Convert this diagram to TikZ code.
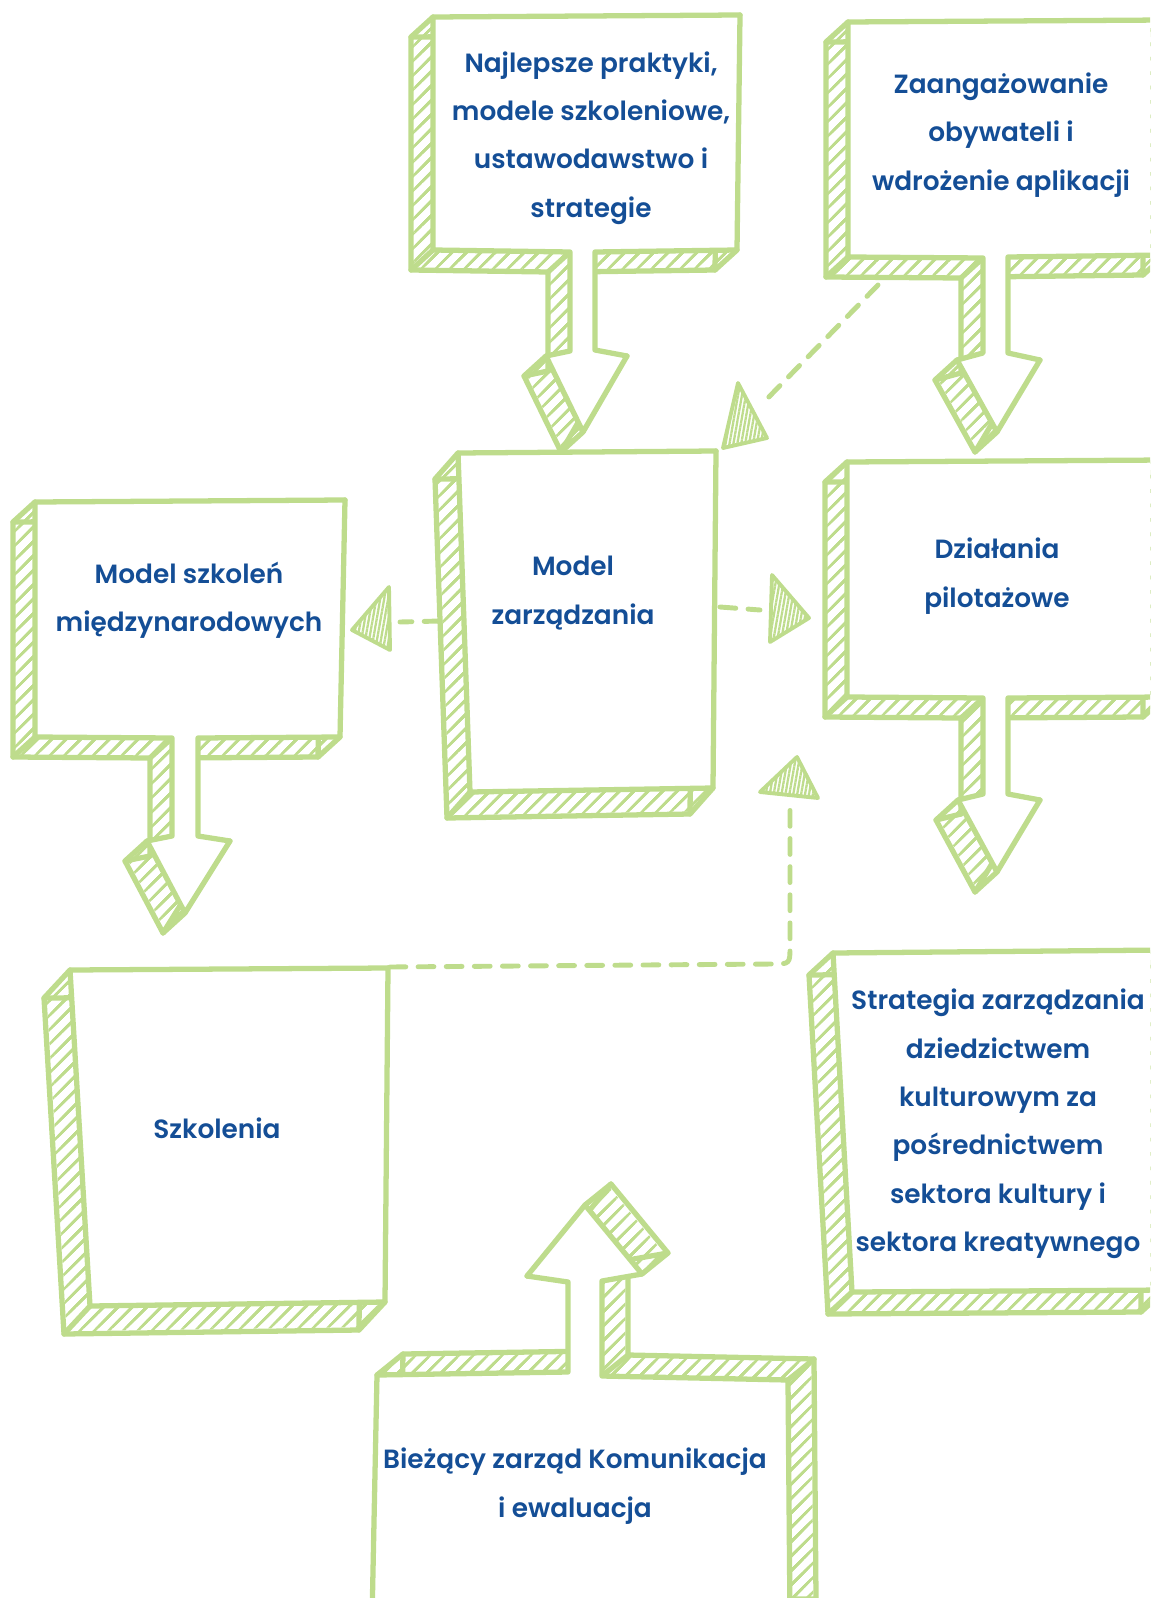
\documentclass[tikz,border=0pt]{standalone}
\usepackage{fontspec}
\setmainfont{Poppins}[UprightFont=* Medium, BoldFont=* SemiBold]
\usetikzlibrary{patterns.meta}
\definecolor{leaf}{RGB}{190,220,140}
\definecolor{ink}{RGB}{20,78,150}

% hand-drawn slab: depth (#1,#2), first corner #3, other corners #4 as x/y
\newcommand{\slab}[4]{%
  \foreach \t in {0,0.1,...,1}
    \fill[hatch,shift={(\t*#1,\t*#2)}] (#3) \foreach \x/\y in {#4}{-- (\x,\y)} -- cycle;
  \draw[rim] (#3) -- ++(#1,#2);
  \foreach \x/\y in {#4} \draw[rim] (\x,\y) -- ++(#1,#2);
  \draw[rim,shift={(#1,#2)}] (#3) \foreach \x/\y in {#4}{-- (\x,\y)} -- cycle;
  \filldraw[rim,fill=white] (#3) \foreach \x/\y in {#4}{-- (\x,\y)} -- cycle;
}

\begin{document}
\begin{tikzpicture}[
  x=0.02cm, y=-0.02cm,
  rim/.style={draw=leaf,line width=3pt,line join=round,line cap=round},
  hatch/.style={pattern={Lines[angle=45,distance=5.8pt,line width=1.4pt]},pattern color=leaf},
  label/.style={text=ink,align=center,font=\fontsize{15}{27.5}\selectfont\bfseries},
  trail/.style={draw=leaf,line width=2.8pt,line cap=round,dash pattern=on 9pt off 7pt},
  tip/.style={draw=leaf,line width=2.2pt,line join=round,
    pattern={Lines[angle=80,distance=2.2pt,line width=1.3pt]},pattern color=leaf}
]
\useasboundingbox (0,0) rectangle (1150,1598);
\clip (0,0) rectangle (1150,1598);

% boxes
\slab{-22}{20}{433,17}{740/15, 737/250, 595/252, 595/350, 627/356, 583/432, 546/356, 570/351, 570/252, 433/250}
\slab{-22}{20}{848,22}{1165/20, 1165/255, 1008/257, 1008/353, 1040/360, 997/432, 957/360, 983/353, 983/258, 848/257}
\slab{-23}{26}{458,453}{716/451, 713/788, 470/792}
\slab{-22}{20}{35,502}{345/500, 340/737, 198/738, 198/836, 230/841, 185/913, 147/841, 172/836, 172/738, 35/737}
\slab{-22}{20}{847,462}{1165/460, 1165/697, 1008/698, 1008/794, 1040/800, 997/872, 958/800, 983/794, 983/698, 847/697}
\slab{-24}{22}{833,953}{1165/950, 1165/1290, 852/1292}
\slab{-26}{28}{70,970}{388/968, 385/1302, 90/1306}
\slab{26}{-21}{377,1375}{568/1372, 568/1282, 527/1276, 585/1205, 642/1274, 602/1281, 602/1376, 788/1380, 790/1620, 372/1620}

% texts
\node[label] (best) at (591,138) {Najlepsze praktyki,\\modele szkoleniowe,\\ustawodawstwo i\\strategie};
\node[label] (civic) at (1001,135) {Zaangażowanie\\obywateli i\\wdrożenie aplikacji};
\node[label] (gov) at (573,593) {Model\\zarządzania};
\node[label] (intl) at (189,600) {Model szkoleń\\międzynarodowych};
\node[label] (pilot) at (997,576) {Działania\\pilotażowe};
\node[label] (heritage) at (998,1124) {Strategia zarządzania\\dziedzictwem\\kulturowym za\\pośrednictwem\\sektora kultury i\\sektora kreatywnego};
\node[label] (train) at (217,1128) {Szkolenia};
\node[label] (comms) at (575,1486) {Bieżący zarząd Komunikacja\\i ewaluacja};

% dashed links
\coordinate (civic-out) at (878,285);
\coordinate (gov-in) at (763,403);
\coordinate (gov-left) at (440,621);
\coordinate (intl-in) at (400,622);
\coordinate (gov-right) at (720,607);
\coordinate (pilot-in) at (760,610);
\coordinate (train-out) at (390,967);
\coordinate (gov-foot) at (790,807);

\draw[trail] (civic-out) -- (gov-in);
\draw[trail] (gov-left) -- (intl-in);
\draw[trail] (gov-right) -- (pilot-in);
\draw[trail] (train-out) -- (772,964) .. controls (790,964) .. (790,946) -- (gov-foot);

\filldraw[tip] (738,383) -- (723,448) -- (767,438) -- cycle;
\filldraw[tip] (352,630) -- (389,587) -- (390,650) -- cycle;
\filldraw[tip] (772,575) -- (809,618) -- (770,642) -- cycle;
\filldraw[tip] (797,757) -- (760,792) -- (818,798) -- cycle;
\end{tikzpicture}
\end{document}
